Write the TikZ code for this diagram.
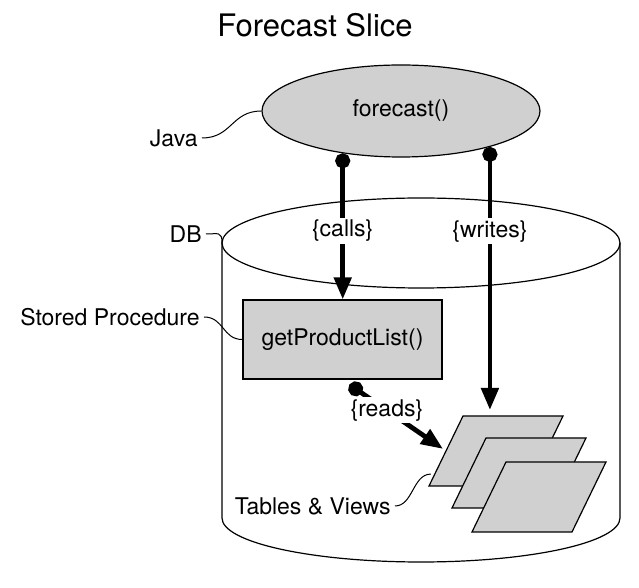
\documentclass[tikz,border=0pt]{standalone}
\usepackage{fontspec}
\setmainfont{TeX Gyre Heros}
\usepackage{tikz}
\usetikzlibrary{arrows.meta,shapes.geometric,calc}
\definecolor{boxgray}{RGB}{208,208,208}
\tikzset{
  lbl/.style={font=\fontsize{11.5}{14}\selectfont, inner sep=2pt},
  hint/.style={line width=0.5pt},
  dep/.style={line width=2.4pt, {Circle[length=7.5pt]}-{Triangle[length=11pt,width=8.5pt]}},
  tag/.style={lbl, fill=white, inner sep=1pt},
  plane/.style={draw, line width=0.6pt, fill=boxgray}
}

\begin{document}
\begin{tikzpicture}[x=0.5pt, y=-0.5pt]
	    \useasboundingbox (0,0) rectangle (639,588);
	    \node[font=\fontsize{15.5}{18}\selectfont] (title) at (315,25) {Forecast Slice};
	    % database
	    \draw[line width=0.6pt] (421,243) ellipse [x radius=199, y radius=45];
	    \draw[line width=0.6pt] (222,243) coordinate (dbw) -- (222,518)
	      arc[start angle=180, end angle=0, x radius=199, y radius=44] -- (620,243);
	    % tables and views
	    \foreach \n/\x/\y in {1/429/486, 2/452/508, 3/472/532} {
	      \draw[plane] (\x,\y) coordinate (tv\n) -- ++(100,0) -- ++(34,-70) -- ++(-100,0) coordinate (tvtop\n) -- cycle;
	    }
	    \node[draw, line width=0.6pt, fill=boxgray, lbl, minimum width=99.5pt, minimum height=39.5pt] (proc) at (342.5,339.5) {getProductList()};
	    \node[ellipse, draw, line width=0.6pt, fill=boxgray, lbl, minimum width=139pt, minimum height=46pt] (forecast) at (401,111) {forecast()};
	    % dependencies
	    \draw[dep] (forecast.216) -- (forecast.216 |- proc.north) node[tag, pos=0.53] {\{calls\}};
	    \draw[dep] (forecast.-22) -- ([yshift=3pt]forecast.-22 |- tvtop1) node[tag, pos=0.32] {\{writes\}};
	    \draw[dep] ([shift={(7,5)}]proc.south) -- ($(tv1)!0.53!(tvtop1) + (-4,0)$) node[tag, pos=0.4] {\{reads\}};
	    % labels
	    \node[lbl, anchor=east] (java) at (202,138) {Java};
	    \draw[hint] (java.east) .. controls +(30,0) and +(-30,0) .. (forecast.west);
	    \node[lbl, anchor=east] (db) at (206,234) {DB};
	    \draw[hint] (db.east) .. controls +(12,0) and +(0,-12) .. (dbw);
	    \node[lbl, anchor=east] (sp) at (204,317) {Stored Procedure};
	    \draw[hint] (sp.east) .. controls +(20,0) and +(-20,0) .. (proc.west);
	    \node[lbl, anchor=east] (tvlbl) at (395,506) {Tables \& Views};
	    \draw[hint] (tvlbl.east) .. controls +(18,0) and +(-18,0) .. ($(tv1)!0.17!(tvtop1) + (-4,0)$);
\end{tikzpicture}
\end{document}
